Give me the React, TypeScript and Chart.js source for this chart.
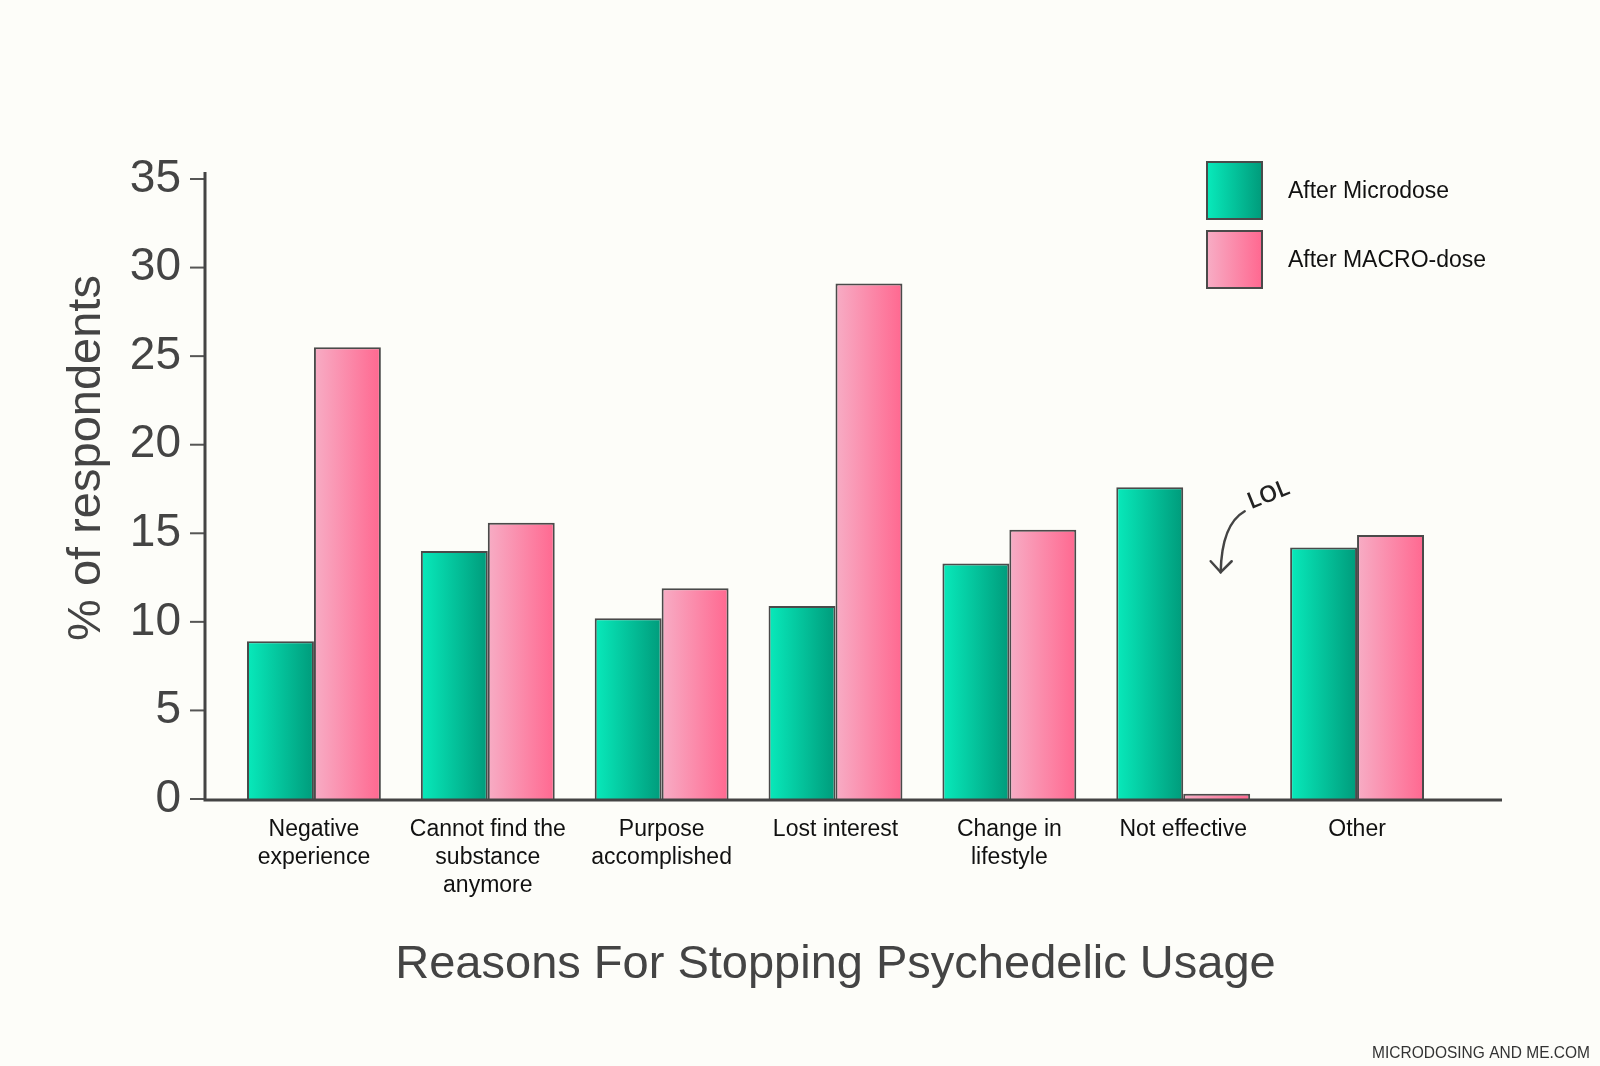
import React, { useEffect, useRef } from 'react';
import { Chart, registerables } from 'chart.js';

Chart.register(...registerables);

// data
const categories = [
  ['Negative', 'experience'],
  ['Cannot find the', 'substance', 'anymore'],
  ['Purpose', 'accomplished'],
  ['Lost interest'],
  ['Change in', 'lifestyle'],
  ['Not effective'],
  ['Other'],
];
const seriesNames = ['After Microdose', 'After MACRO-dose'];
const microValues = [8.9, 14.0, 10.2, 10.9, 13.3, 17.6, 14.2];
const macroValues = [25.5, 15.6, 11.9, 29.1, 15.2, 0.3, 14.9];
const yTicks = [0, 5, 10, 15, 20, 25, 30, 35];

const gradientStops = [
  ['#08eabb', '#009b7b'],
  ['#f7adc5', '#ff6890'],
];

const FONT = '"Liberation Sans", Arial, Helvetica, sans-serif';
const AXIS_COLOR = '#444';

// where the "LOL" arrow points (category index, value)
const lolIndex = 5;
const lolValue = 12.8;

const decorations = {
  id: 'decorations',
  beforeDatasetsDraw(chart: any) {
    const ctx = chart.ctx;
    chart.data.datasets.forEach((_: any, di: number) => {
      const meta = chart.getDatasetMeta(di);
      meta.data.forEach((el: any) => {
        const { x, width } = el.getProps(['x', 'width'], true);
        const g = ctx.createLinearGradient(x - width / 2, 0, x + width / 2, 0);
        g.addColorStop(0, gradientStops[di][0]);
        g.addColorStop(1, gradientStops[di][1]);
        el.options = { ...el.options, backgroundColor: g };
      });
    });
  },
  afterDatasetsDraw(chart: any) {
    const { ctx, chartArea, scales } = chart;
    const y = scales.y;
    const axisX = chartArea.left - 22;
    const zeroY = y.getPixelForValue(0) + 1;

    ctx.save();
    // tick marks
    ctx.strokeStyle = '#555';
    ctx.lineWidth = 2;
    yTicks.forEach((v) => {
      const py = y.getPixelForValue(v);
      ctx.beginPath();
      ctx.moveTo(axisX - 15, py);
      ctx.lineTo(axisX, py);
      ctx.stroke();
    });
    // axis lines
    ctx.strokeStyle = AXIS_COLOR;
    ctx.lineWidth = 3;
    ctx.beginPath();
    ctx.moveTo(axisX, y.getPixelForValue(35) - 7);
    ctx.lineTo(axisX, zeroY);
    ctx.lineTo(chartArea.right + 58, zeroY);
    ctx.stroke();

    // legend
    const boxX = chartArea.right - 237;
    chart.data.datasets.forEach((ds: any, di: number) => {
      const top = 162 + di * 69;
      const g = ctx.createLinearGradient(boxX, 0, boxX + 55, 0);
      g.addColorStop(0, gradientStops[di][0]);
      g.addColorStop(1, gradientStops[di][1]);
      ctx.fillStyle = g;
      ctx.fillRect(boxX, top, 55, 57);
      ctx.strokeStyle = '#4a4a4a';
      ctx.lineWidth = 2;
      ctx.strokeRect(boxX, top, 55, 57);
      ctx.fillStyle = '#111';
      ctx.font = `23px ${FONT}`;
      ctx.textAlign = 'left';
      ctx.textBaseline = 'middle';
      ctx.fillText(ds.label, boxX + 81, top + 30);
    });

    // LOL annotation
    const bar = chart.getDatasetMeta(1).data[lolIndex];
    const tipX = bar.x + 4;
    const tipY = y.getPixelForValue(lolValue);
    ctx.strokeStyle = '#444';
    ctx.lineWidth = 2.5;
    ctx.lineCap = 'round';
    ctx.beginPath();
    ctx.moveTo(tipX + 24, tipY - 61);
    ctx.quadraticCurveTo(tipX + 1, tipY - 48, tipX, tipY);
    ctx.stroke();
    ctx.beginPath();
    ctx.moveTo(tipX - 10, tipY - 11);
    ctx.lineTo(tipX, tipY);
    ctx.lineTo(tipX + 11, tipY - 11);
    ctx.stroke();
    ctx.save();
    ctx.translate(tipX + 48, tipY - 77);
    ctx.rotate(-0.38);
    ctx.fillStyle = '#222';
    ctx.font = `600 23px "Open Sans", ${FONT}`;
    ctx.textAlign = 'center';
    ctx.textBaseline = 'middle';
    ctx.fillText('LOL', 0, 0);
    ctx.restore();

    // watermark
    ctx.fillStyle = '#333';
    ctx.font = `17px ${FONT}`;
    ctx.textAlign = 'right';
    ctx.textBaseline = 'middle';
    ctx.fillText('MICRODOSING AND ME.COM', chart.width - 10, chart.height - 13, 218);
    ctx.restore();
  },
};

const App: React.FC = () => {
  const chartRef = useRef<HTMLCanvasElement | null>(null);

  useEffect(() => {
    document.body.style.margin = '0';
    if (!chartRef.current) return;

    const chart = new Chart(chartRef.current, {
      type: 'bar',
      data: {
        labels: categories,
        datasets: [
          {
            label: seriesNames[0],
            data: microValues,
            backgroundColor: gradientStops[0][1],
            borderColor: '#4a4a4a',
            borderWidth: 2,
          },
          {
            label: seriesNames[1],
            data: macroValues,
            backgroundColor: gradientStops[1][1],
            borderColor: '#4a4a4a',
            borderWidth: 2,
          },
        ],
      },
      options: {
        animation: false,
        responsive: true,
        maintainAspectRatio: false,
        layout: { padding: { top: 117, right: 156, bottom: 73, left: 0 } },
        datasets: { bar: { categoryPercentage: 0.77, barPercentage: 1 } },
        plugins: {
          legend: { display: false },
          tooltip: { enabled: false },
        },
        scales: {
          x: {
            grid: { display: false, drawTicks: false },
            border: { display: false },
            ticks: {
              color: '#111',
              font: { family: FONT, size: 23, lineHeight: 1.22 },
              padding: 17,
              maxRotation: 0,
              autoSkip: false,
            },
            title: {
              display: true,
              text: 'Reasons For Stopping Psychedelic Usage',
              color: AXIS_COLOR,
              font: { family: FONT, size: 47 },
              padding: { top: 0, bottom: 0 },
            },
            afterFit: (s: any) => {
              s.height = 194;
            },
          },
          y: {
            min: 0,
            max: 38.5,
            grid: { display: false, drawTicks: false },
            border: { display: false },
            ticks: {
              color: AXIS_COLOR,
              font: { family: FONT, size: 46 },
              padding: 46,
            },
            afterBuildTicks: (s: any) => {
              s.ticks = yTicks.map((v) => ({ value: v }));
            },
            title: {
              display: true,
              text: '% of respondents',
              color: AXIS_COLOR,
              font: { family: FONT, size: 47 },
              padding: { top: 59, bottom: 0 },
            },
            afterFit: (s: any) => {
              s.width = 227;
            },
          },
        },
      },
      plugins: [decorations],
    });

    return () => {
      chart.destroy();
    };
  }, []);

  return (
    <div style={{ position: 'relative', width: 1600, height: 1066, background: '#fdfdf9' }}>
      <canvas ref={chartRef}></canvas>
    </div>
  );
};

export default App;
